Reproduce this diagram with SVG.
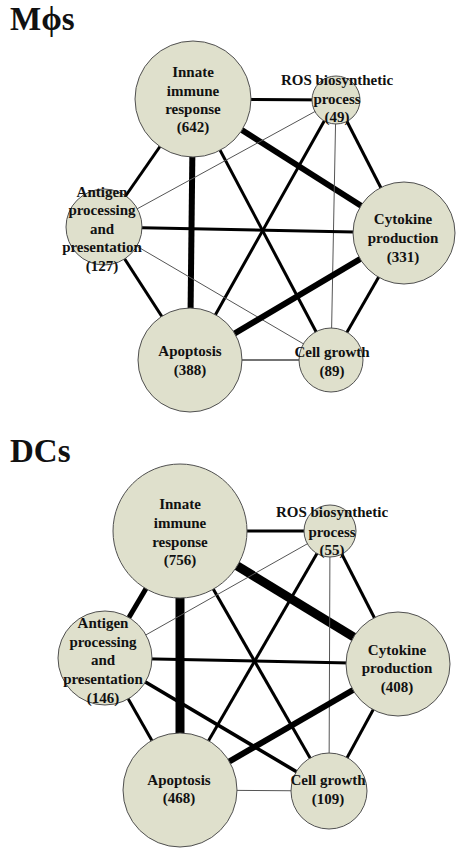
<svg xmlns="http://www.w3.org/2000/svg" width="459" height="851" viewBox="0 0 459 851">
<style>
.bg{fill:#ffffff}
.title{font-family:"Liberation Serif","Times New Roman",serif;font-weight:bold;font-size:33px;fill:#111}
.node circle{fill:#dfe0cc;stroke:#505050;stroke-width:1}
.node text{font-family:"Liberation Serif","Times New Roman",serif;font-weight:bold;font-size:15px;fill:#111;text-anchor:middle}
.e{stroke:#000;stroke-linecap:butt;fill:none}
.w1{stroke:#555;stroke-width:1}
.w15{stroke:#444;stroke-width:1.5}
.w3{stroke-width:3}
.w35{stroke-width:3.5}
.w5{stroke-width:5}
.w6{stroke-width:6}
.w9{stroke-width:9}
</style>
<rect class="bg" x="0" y="0" width="459" height="851"/>
<text class="title" x="10" y="30">Mϕs</text>
<text class="title" x="10" y="462">DCs</text>

<g id="connectors-mphi">
<line class="e w3" x1="193" y1="99" x2="336" y2="100"/>
<line class="e w6" x1="193" y1="99" x2="404" y2="233"/>
<line class="e w3" x1="193" y1="99" x2="104" y2="227"/>
<line class="e w6" x1="193" y1="99" x2="190" y2="360"/>
<line class="e w3" x1="193" y1="99" x2="331" y2="360"/>
<line class="e w1" x1="336" y1="100" x2="104" y2="227"/>
<line class="e w3" x1="336" y1="100" x2="190" y2="360"/>
<line class="e w1" x1="336" y1="100" x2="331" y2="360"/>
<line class="e w3" x1="336" y1="100" x2="404" y2="233"/>
<line class="e w3" x1="104" y1="227" x2="404" y2="233"/>
<line class="e w3" x1="104" y1="227" x2="190" y2="360"/>
<line class="e w1" x1="104" y1="227" x2="331" y2="360"/>
<line class="e w6" x1="404" y1="233" x2="190" y2="360"/>
<line class="e w3" x1="404" y1="233" x2="331" y2="360"/>
<line class="e w15" x1="190" y1="360" x2="331" y2="360"/>
</g>

<g id="mphi-innate" class="node">
<circle cx="193" cy="99" r="58"/>
<text x="193" y="77">Innate</text>
<text x="193" y="96">immune</text>
<text x="193" y="114">response</text>
<text x="193" y="132">(642)</text>
</g>
<g id="mphi-ros" class="node">
<circle cx="336" cy="100" r="24"/>
<text x="337" y="85">ROS biosynthetic</text>
<text x="337" y="104">process</text>
<text x="337" y="122">(49)</text>
</g>
<g id="mphi-antigen" class="node">
<circle cx="104" cy="227" r="38"/>
<text x="102" y="197">Antigen</text>
<text x="102" y="215">processing</text>
<text x="102" y="234">and</text>
<text x="102" y="252">presentation</text>
<text x="102" y="271">(127)</text>
</g>
<g id="mphi-cytokine" class="node">
<circle cx="404" cy="233" r="51"/>
<text x="403" y="224">Cytokine</text>
<text x="403" y="243">production</text>
<text x="403" y="262">(331)</text>
</g>
<g id="mphi-apoptosis" class="node">
<circle cx="190" cy="360" r="52"/>
<text x="190" y="356">Apoptosis</text>
<text x="190" y="375">(388)</text>
</g>
<g id="mphi-cellgrowth" class="node">
<circle cx="331" cy="360" r="32"/>
<text x="332" y="357">Cell growth</text>
<text x="332" y="376">(89)</text>
</g>

<g id="connectors-dc">
<line class="e w3" x1="180" y1="531" x2="330" y2="531"/>
<line class="e w9" x1="180" y1="531" x2="398" y2="664"/>
<line class="e w5" x1="180" y1="531" x2="105" y2="658"/>
<line class="e w9" x1="180" y1="531" x2="180" y2="790"/>
<line class="e w3" x1="180" y1="531" x2="329" y2="791"/>
<line class="e w1" x1="330" y1="531" x2="105" y2="658"/>
<line class="e w3" x1="330" y1="531" x2="180" y2="790"/>
<line class="e w1" x1="330" y1="531" x2="329" y2="791"/>
<line class="e w3" x1="330" y1="531" x2="398" y2="664"/>
<line class="e w3" x1="105" y1="658" x2="398" y2="664"/>
<line class="e w3" x1="105" y1="658" x2="180" y2="790"/>
<line class="e w35" x1="105" y1="658" x2="329" y2="791"/>
<line class="e w6" x1="398" y1="664" x2="180" y2="790"/>
<line class="e w3" x1="398" y1="664" x2="329" y2="791"/>
<line class="e w1" x1="180" y1="790" x2="329" y2="791"/>
</g>

<g id="dc-innate" class="node">
<circle cx="180" cy="531" r="67"/>
<text x="180" y="509">Innate</text>
<text x="180" y="528">immune</text>
<text x="180" y="547">response</text>
<text x="180" y="565">(756)</text>
</g>
<g id="dc-ros" class="node">
<circle cx="330" cy="531" r="26"/>
<text x="332" y="517">ROS biosynthetic</text>
<text x="332" y="537">process</text>
<text x="332" y="555">(55)</text>
</g>
<g id="dc-antigen" class="node">
<circle cx="105" cy="658" r="47"/>
<text x="103" y="628">Antigen</text>
<text x="103" y="647">processing</text>
<text x="103" y="665">and</text>
<text x="103" y="684">presentation</text>
<text x="103" y="703">(146)</text>
</g>
<g id="dc-cytokine" class="node">
<circle cx="398" cy="664" r="52"/>
<text x="397" y="655">Cytokine</text>
<text x="397" y="673">production</text>
<text x="397" y="692">(408)</text>
</g>
<g id="dc-apoptosis" class="node">
<circle cx="180" cy="790" r="57"/>
<text x="179" y="785">Apoptosis</text>
<text x="179" y="803">(468)</text>
</g>
<g id="dc-cellgrowth" class="node">
<circle cx="329" cy="791" r="38"/>
<text x="328" y="785">Cell growth</text>
<text x="328" y="804">(109)</text>
</g>
</svg>
